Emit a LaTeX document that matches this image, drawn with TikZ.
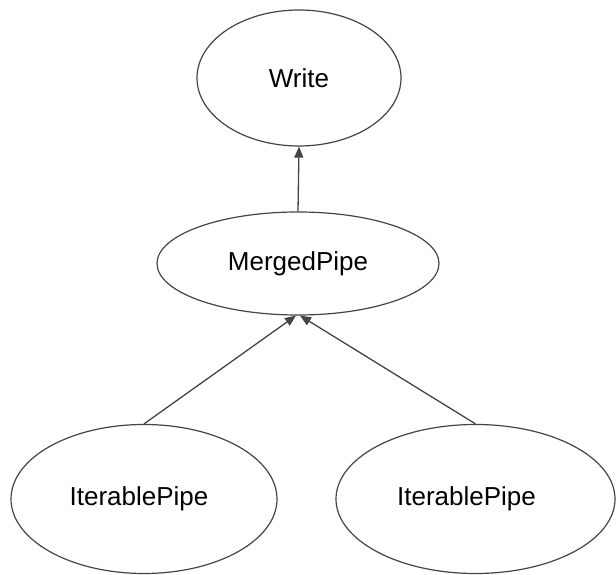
\documentclass[tikz,border=0pt]{standalone}
\usepackage{fontspec}
\setmainfont{Liberation Sans}
\usetikzlibrary{shapes.geometric,arrows.meta}
\definecolor{edgegray}{HTML}{444444}
\tikzset{
    pipe/.style={ellipse, draw=edgegray, line width=1.2pt, inner sep=0pt,
        font=\fontsize{26}{30}\selectfont},
    feed/.style={draw=edgegray, line width=1.3pt,
        -{Triangle[length=11pt,width=9pt]}}
}
\begin{document}
\begin{tikzpicture}[x=1pt, y=1pt]
    \useasboundingbox (0,0) rectangle (616,575);
    \node[pipe, minimum width=204pt, minimum height=136pt] (write) at (299,497) {Write};
    \node[pipe, minimum width=282pt, minimum height=103pt] (merged) at (298,311.5) {MergedPipe};
    \node[pipe, minimum width=266pt, minimum height=149pt] (iterA) at (144,76) {IterablePipe\hspace*{10pt}};
    \node[pipe, minimum width=279pt, minimum height=149pt] (iterB) at (475.5,76) {IterablePipe\hspace*{18pt}};
    \draw[feed] (merged.north) -- (write.south);
    \draw[feed] (iterA.north) -- ([xshift=-2pt]merged.south);
    \draw[feed] (iterB.north) -- ([xshift=2pt]merged.south);
\end{tikzpicture}
\end{document}
